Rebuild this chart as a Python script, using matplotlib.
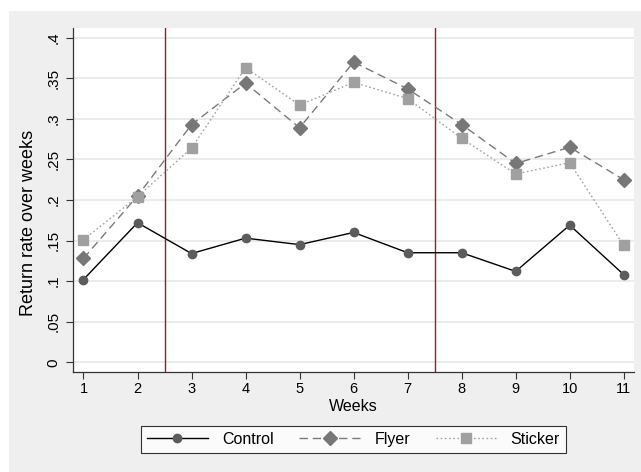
import matplotlib.pyplot as plt
from matplotlib.patches import Rectangle
from matplotlib.ticker import FuncFormatter

plt.rcParams['font.family'] = ['Liberation Sans', 'DejaVu Sans']

weeks = [1, 2, 3, 4, 5, 6, 7, 8, 9, 10, 11]
control = [0.102, 0.172, 0.134, 0.153, 0.145, 0.160, 0.135, 0.135, 0.112, 0.169, 0.108]
flyer = [0.128, 0.205, 0.293, 0.344, 0.289, 0.370, 0.337, 0.293, 0.245, 0.265, 0.225]
sticker = [0.151, 0.204, 0.264, 0.363, 0.317, 0.345, 0.325, 0.276, 0.232, 0.246, 0.144]
yticks = [0, 0.05, 0.1, 0.15, 0.2, 0.25, 0.3, 0.35, 0.4]
breaks = [2.5, 7.5]

W, H = 641, 472
fig = plt.figure(figsize=(W / 100, H / 100), dpi=100)
fig.patch.set_facecolor('white')
fig.patches.append(Rectangle((9 / W, 0), 1, 1 - 11 / H, transform=fig.transFigure,
                             facecolor='#efefef', edgecolor='none', zorder=-10))

ax = fig.add_axes([73 / W, (H - 372) / H, (634 - 73) / W, (372 - 28) / H])
ax.set_facecolor('white')

for y in yticks:
    ax.axhline(y, color='#e8e8e8', lw=1.2, zorder=0)
for b in breaks:
    ax.axvline(b, color='#9b1c2a', lw=1.0, zorder=1)

ax.plot(weeks, control, color='black', lw=1.0, marker='o', ms=6,
        mfc='#5c5c5c', mec='#5c5c5c', label='Control', zorder=3)
ax.plot(weeks, flyer, color='#7a7a7a', lw=1.0, dashes=(6, 3.5), marker='D', ms=7,
        mfc='#777777', mec='#777777', label='Flyer', zorder=3)
ax.plot(weeks, sticker, color='#a3a3a3', lw=1.0, dashes=(1.2, 1.8), marker='s', ms=6.5,
        mfc='#a0a0a0', mec='#a0a0a0', label='Sticker', zorder=3)

ax.set_xlim(0.806, 11.19)
ax.set_ylim(-0.012, 0.412)
ax.set_xticks(weeks)
ax.set_yticks(yticks)
ax.yaxis.set_major_formatter(FuncFormatter(lambda v, p: ('%g' % v).lstrip('0') or '0'))
ax.tick_params(axis='both', direction='out', length=5, width=0.8, color='#333333')
ax.tick_params(axis='x', labelsize=10.5, pad=2)
ax.tick_params(axis='y', labelsize=11, pad=4)
for lab in ax.get_yticklabels():
    lab.set_rotation(90)
    lab.set_va('center')

for s in ['top', 'right']:
    ax.spines[s].set_visible(False)
for s in ['left', 'bottom']:
    ax.spines[s].set_color('#333333')
    ax.spines[s].set_linewidth(0.9)

ax.set_xlabel('Weeks', fontsize=11.5, va='center')
ax.xaxis.set_label_coords(0.5, (372 - 406.5) / 344)
ax.set_ylabel('Return rate over weeks', fontsize=13, va='center')
ax.yaxis.set_label_coords((29 - 73) / 561, (372 - 222.5) / 344)

leg = fig.legend(loc='center', bbox_to_anchor=(353.5 / W, 1 - 439.5 / H), ncol=3,
                 frameon=True, fancybox=False, edgecolor='black', fontsize=11.5,
                 handlelength=3.8, handletextpad=0.9, columnspacing=1.6,
                 borderpad=0.4)
leg.get_frame().set_linewidth(0.8)

fig.savefig('out.png', dpi=100)
